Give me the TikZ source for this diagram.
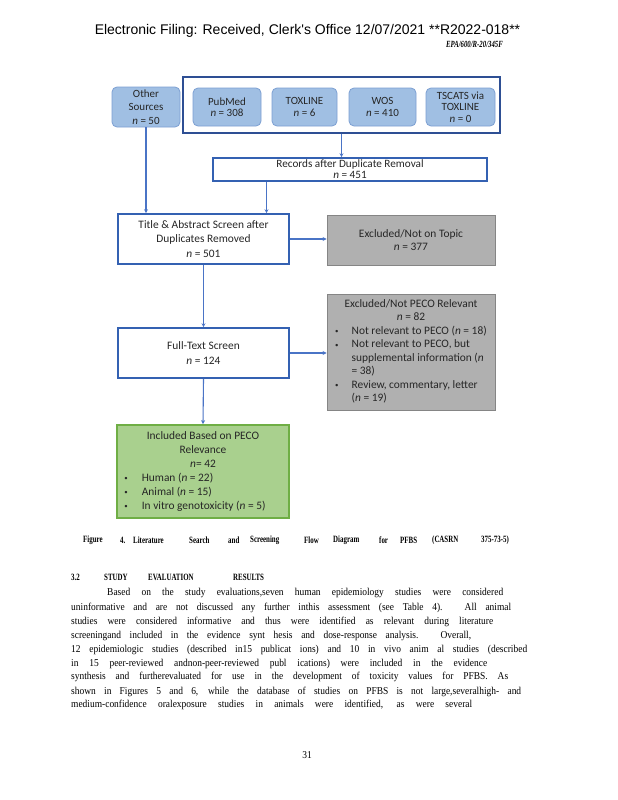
\documentclass[tikz,border=0pt]{standalone}
\usepackage{fontspec}
\usepackage{graphicx}
\setmainfont{Carlito}
\newfontfamily\headfont{Liberation Sans}
\newfontfamily\docfont[FakeStretch=0.9]{Liberation Serif}
\newfontfamily\narrowfont[FakeStretch=0.72]{Liberation Serif}
\usetikzlibrary{arrows.meta,calc}

\definecolor{srcfill}{HTML}{A0BFE3}
\definecolor{srcedge}{HTML}{7C9FD2}
\definecolor{outerblue}{HTML}{2E4F94}
\definecolor{boxblue}{HTML}{3461B2}
\definecolor{flowblue}{HTML}{4A74C6}
\definecolor{dropfill}{HTML}{B0B0B0}
\definecolor{dropedge}{HTML}{858585}
\definecolor{keepfill}{HTML}{A9D08E}
\definecolor{keepedge}{HTML}{6FAE45}

\newcommand{\listdot}{\raisebox{0.15ex}{\scalebox{0.6}{\textbullet}}}

\begin{document}
\begin{tikzpicture}[x=1pt,y=-1pt,
        srcbox/.style={draw=srcedge,fill=srcfill,rounded corners=5pt,line width=0.8pt,align=center,inner sep=0pt,font=\fontsize{11}{11.5}\selectfont,text=black!85},
        stepbox/.style={draw=boxblue,fill=white,line width=1.6pt,align=center,inner sep=0pt,font=\fontsize{11.4}{14.5}\selectfont,text=black!85},
        dropbox/.style={draw=dropedge,fill=dropfill,line width=0.8pt,align=center,inner sep=0pt,font=\fontsize{11.4}{13.5}\selectfont,text=black!85},
        keepbox/.style={draw=keepedge,fill=keepfill,line width=1.6pt,inner sep=0pt,font=\fontsize{11.4}{14}\selectfont,text=black!85},
        flow/.style={draw=flowblue,line width=1.1pt,-{Stealth[length=4pt,width=4pt]}},
        capword/.style={anchor=west,inner sep=0pt,font=\narrowfont\bfseries\fontsize{9.6}{10}\selectfont},
        bodyline/.style={anchor=west,inner sep=0pt,font=\docfont\fontsize{10.5}{12}\selectfont}
    ]
        \useasboundingbox[fill=white] (0,0) rectangle (618,800);

        % Page header
        \node[font=\headfont\fontsize{14}{16}\selectfont] (filing) at (307.5,31) {Electronic Filing: Received, Clerk\textquotesingle s Office 12/07/2021 **R2022-018**};
        \node[anchor=east,inner sep=0pt,font=\narrowfont\bfseries\itshape\fontsize{9.4}{10}\selectfont] (docid) at (503,44) {EPA/600/R-20/345F};

        % Define the nodes
        \node[draw=outerblue,line width=2.4pt,minimum width=317pt,minimum height=56pt] (databases) at (341.5,105) {};
        \node[srcbox,minimum width=68pt,minimum height=40pt,font=\fontsize{11}{13.5}\selectfont] (other) at (146,107) {Other\\Sources\\\textit{n} = 50};
        \node[srcbox,minimum width=68pt,minimum height=38pt] (pubmed) at (227,107) {PubMed\\\textit{n} = 308};
        \node[srcbox,minimum width=65pt,minimum height=38pt] (toxline) at (304.5,107) {TOXLINE\\\textit{n} = 6};
        \node[srcbox,minimum width=67pt,minimum height=38pt] (wos) at (382.5,107) {WOS\\\textit{n} = 410};
        \node[srcbox,minimum width=69pt,minimum height=38pt] (tscats) at (460.5,107) {TSCATS via\\TOXLINE\\\textit{n} = 0};

        \node[stepbox,minimum width=274pt,minimum height=23pt,font=\fontsize{11.2}{11}\selectfont] (records) at (350,169.5) {Records after Duplicate Removal\\\textit{n} = 451};
        \node[stepbox,minimum width=171pt,minimum height=50pt] (title) at (203.5,239) {Title \& Abstract Screen after\\Duplicates Removed\\\textit{n} = 501};
        \node[stepbox,minimum width=171pt,minimum height=50pt] (fulltext) at (203.5,353) {Full-Text Screen\\\textit{n} = 124};

        \node[dropbox,minimum width=168pt,minimum height=50pt] (notopic) at (411,240) {Excluded/Not on Topic\\\textit{n} = 377};
        \node[dropbox,minimum width=168pt,minimum height=116pt] (notpeco) at (411,352) {%
            \begin{tabular}{@{}l@{\hspace{13pt}}l@{}}
                \multicolumn{2}{c}{Excluded/Not PECO Relevant}\\
                \multicolumn{2}{c}{\textit{n} = 82}\\
                \listdot & Not relevant to PECO (\textit{n} = 18)\\
                \listdot & Not relevant to PECO, but\\
                 & supplemental information (\textit{n}\\
                 & = 38)\\
                \listdot & Review, commentary, letter\\
                 & (\textit{n} = 19)
            \end{tabular}};
        \node[keepbox,minimum width=172pt,minimum height=93pt] (included) at (203,471.5) {%
            \begin{tabular}{@{}l@{\hspace{14pt}}l@{\hspace{16pt}}}
                \multicolumn{2}{c}{Included Based on PECO}\\
                \multicolumn{2}{c}{Relevance}\\
                \multicolumn{2}{c}{\textit{n}= 42}\\
                \listdot & Human (\textit{n} = 22)\\
                \listdot & Animal (\textit{n} = 15)\\
                \listdot & In vitro genotoxicity (\textit{n} = 5)
            \end{tabular}};

        % Connect the steps
        \coordinate (dupdrop) at ($(title.north west)!0.865!(title.north east)$);
        \draw[flow] (databases.south) -- (databases.south |- records.north);
        \draw[flow] (other.south) -- (other.south |- title.north);
        \draw[flow] (dupdrop |- records.south) -- (dupdrop);
        \draw[flow] (title.east) -- (title.east -| notopic.west);
        \draw[flow] (title.south) -- (fulltext.north);
        \draw[flow] (fulltext.east) -- (fulltext.east -| notpeco.west);
        \draw[flow] (fulltext.south) -- (included.north);

        % Caption
        \foreach \w/\x [count=\i] in {Figure/83, 4./120, Literature/133, Search/189, and/228, Screening/250, Flow/304, Diagram/333, for/379, PFBS/400, {(CASRN}/432, {375-73-5)}/481}
            \node[capword] (cap\i) at (\x,540) {\w};

        % Section heading
        \foreach \w/\x [count=\i] in {3.2/71, STUDY/104, EVALUATION/148, RESULTS/233}
            \node[capword] (head\i) at (\x,577) {\w};

        % Body text
        \node[bodyline] (par1) at (107,593) {\makebox[396pt][s]{Based on the study evaluations,seven human epidemiology studies were considered}};
        \node[bodyline] (par2) at (71,608) {\makebox[440pt][s]{uninformative and are not discussed any further inthis assessment (see Table 4). All animal}};
        \node[bodyline] (par3) at (71,622) {\makebox[422pt][s]{studies were considered informative and thus were identified as relevant during literature}};
        \node[bodyline] (par4) at (71,636) {\makebox[400pt][s]{screeningand included in the evidence synt hesis and dose-response analysis. Overall,}};
        \node[bodyline] (par5) at (71,650) {\makebox[456pt][s]{12 epidemiologic studies (described in15 publicat ions) and 10 in vivo anim al studies (described}};
        \node[bodyline] (par6) at (71,664) {\makebox[416pt][s]{in 15 peer-reviewed andnon-peer-reviewed publ ications) were included in the evidence}};
        \node[bodyline] (par7) at (71,677) {\makebox[437pt][s]{synthesis and furtherevaluated for use in the development of toxicity values for PFBS. As}};
        \node[bodyline] (par8) at (71,692) {\makebox[450pt][s]{shown in Figures 5 and 6, while the database of studies on PFBS is not large,severalhigh- and}};
        \node[bodyline] (par9) at (71,705) {\makebox[401pt][s]{medium-confidence oralexposure studies in animals were identified, as were several}};

        % Page number
        \node[font=\docfont\fontsize{10.5}{12}\selectfont] (pagenum) at (307,755) {31};
    \end{tikzpicture}
\end{document}
